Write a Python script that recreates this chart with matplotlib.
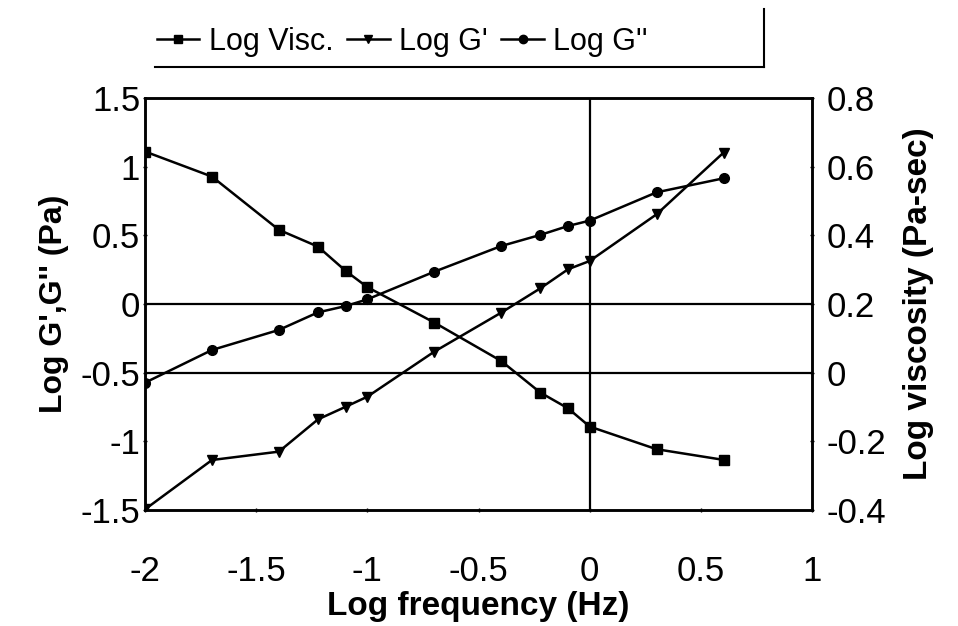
import numpy as np
import matplotlib
matplotlib.use("Agg")
import matplotlib.pyplot as plt
from matplotlib.lines import Line2D

plt.rcParams["font.family"] = ["Liberation Sans", "DejaVu Sans"]

# log10 of frequency (Hz): 0.01 .. 4 Hz
log_freq = [-2.0, -1.699, -1.398, -1.222, -1.097, -1.0, -0.699,
            -0.398, -0.222, -0.097, 0.0, 0.301, 0.602]
log_visc = [0.644, 0.571, 0.416, 0.367, 0.296, 0.249, 0.146,
            0.034, -0.058, -0.104, -0.157, -0.223, -0.254]
log_g1 = [-1.495, -1.136, -1.075, -0.84, -0.748, -0.675, -0.347,
          -0.063, 0.114, 0.253, 0.313, 0.653, 1.102]
log_g2 = [-0.573, -0.335, -0.189, -0.061, -0.015, 0.034, 0.235,
          0.422, 0.503, 0.568, 0.607, 0.813, 0.915]

xticks = [-2, -1.5, -1, -0.5, 0, 0.5, 1]
yticks_left = [-1.5, -1, -0.5, 0, 0.5, 1, 1.5]
yticks_right = [-0.4, -0.2, 0, 0.2, 0.4, 0.6, 0.8]

fig = plt.figure(figsize=(9.58, 6.26), dpi=100)
ax = fig.add_axes([0.1514, 0.1853, 0.6962, 0.6582])
ax2 = ax.twinx()

ax.set_xlim(-2, 1)
ax.set_ylim(-1.5, 1.5)
ax2.set_ylim(-0.4, 0.8)

# reference lines: left 0, right 0 and x = 0
ax.axhline(0, color="black", lw=1.6, zorder=1)
ax.axhline(-0.5, color="black", lw=1.6, zorder=1)
ax.axvline(0, color="black", lw=1.6, zorder=1)

ax.plot(log_freq, log_g1, color="black", lw=1.8, marker="v", ms=7, zorder=3)
ax.plot(log_freq, log_g2, color="black", lw=1.8, marker="o", ms=7, zorder=3)
ax2.plot(log_freq, log_visc, color="black", lw=1.8, marker="s", ms=7.5, zorder=3)

ax.set_xticks(xticks)
ax.set_xticklabels([f"{v:g}" for v in xticks])
ax.set_yticks(yticks_left)
ax.set_yticklabels([f"{v:g}" for v in yticks_left])
ax2.set_yticks(yticks_right)
ax2.set_yticklabels([f"{v:g}" for v in yticks_right])

for a in (ax, ax2):
    a.tick_params(length=3, width=1, labelsize=25, direction="inout")
    for s in a.spines.values():
        s.set_linewidth(1.8)
ax.tick_params(axis="x", pad=31)
ax.tick_params(axis="y", pad=2)
ax2.tick_params(axis="y", pad=9)

ax.set_xlabel("Log frequency (Hz)", fontsize=24, fontweight="bold", labelpad=2)
ax.set_ylabel("Log G',G'' (Pa)", fontsize=23, fontweight="bold", labelpad=8)
ax2.set_ylabel("Log viscosity (Pa-sec)", fontsize=24, fontweight="bold",
               labelpad=12)

handles = [
    Line2D([], [], color="black", lw=1.8, marker="s", ms=6),
    Line2D([], [], color="black", lw=1.8, marker="v", ms=6),
    Line2D([], [], color="black", lw=1.8, marker="o", ms=6),
]
fig.legend(handles, ["Log Visc.", "Log G'", "Log G''"], ncol=3, frameon=False,
           loc="center", bbox_to_anchor=(0.42, 0.933), fontsize=22,
           handlelength=1.4, handletextpad=0.3, columnspacing=0.45,
           borderpad=0.1)
# partial legend frame: bottom and right edges
fig.add_artist(Line2D([0.162, 0.797], [0.893, 0.893], color="black", lw=1.5))
fig.add_artist(Line2D([0.797, 0.797], [0.893, 0.985], color="black", lw=1.5))

fig.savefig("out.png", dpi=100)
